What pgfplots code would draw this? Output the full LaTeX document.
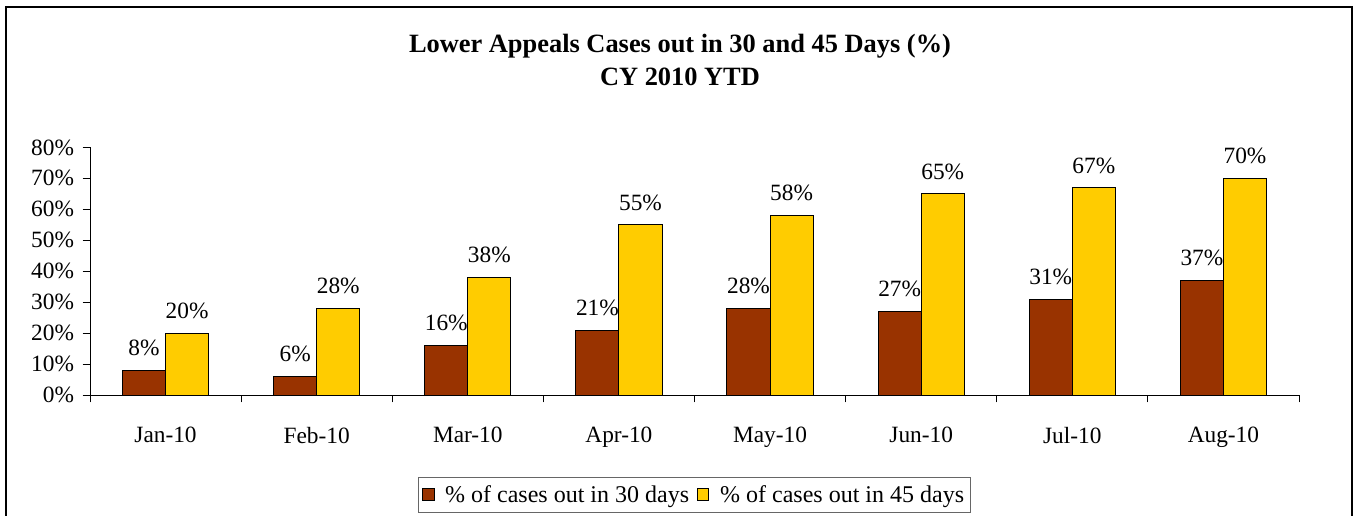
\documentclass[border=0pt]{standalone}
\usepackage{pgfplots}
\pgfplotsset{compat=1.18}
\usepackage{fontspec}
\setmainfont{Liberation Serif}
\definecolor{brownbar}{RGB}{153,51,0}
\definecolor{yellowbar}{RGB}{255,204,0}
\begin{document}
\begin{tikzpicture}
\useasboundingbox (0,0) rectangle (1017pt,386.25pt);
\draw[line width=1.5pt] (4.5pt,-3pt) -- (4.5pt,381pt) -- (1014pt,381pt) -- (1014pt,-3pt);
\node[font=\fontsize{19.8}{24.75}\selectfont\bfseries, align=center] at (510pt,341pt) {Lower Appeals Cases out in 30 and 45 Days (\%)\\CY 2010 YTD};
\begin{axis}[
  at={(67.5pt,90pt)}, anchor=south west,
  scale only axis, width=906.75pt, height=185.7pt,
  xmin=-0.5, xmax=7.5, ymin=0, ymax=80,
  ybar=0pt, bar width=0.285,
  axis lines*=left,
  axis line style={line width=0.75pt, black},
  xtick={-0.5,0.5,1.5,2.5,3.5,4.5,5.5,6.5,7.5},
  x tick label as interval,
  xticklabels={Jan-10,Feb-10,Mar-10,Apr-10,May-10,Jun-10,Jul-10,Aug-10},
  ytick={0,10,20,30,40,50,60,70,80},
  yticklabels={0\%,10\%,20\%,30\%,40\%,50\%,60\%,70\%,80\%},
  tick align=outside,
  major tick length=5.5pt,
  tick style={line width=0.75pt, black},
  ticklabel style={font=\fontsize{17.5}{20}\selectfont},
  y tick label style={xshift=-3pt},
  x tick label style={yshift=-15pt},
  nodes near coords={\pgfmathprintnumber[assume math mode=true]{\pgfplotspointmeta}\%},
  every node near coord/.append style={font=\fontsize{17.5}{20}\selectfont, yshift=7pt, black},
  legend columns=2,
  legend style={at={(0.5,-0.331)}, anchor=north, draw=black!60, line width=0.75pt,
    font=\fontsize{18}{20}\selectfont, inner xsep=3pt, inner ysep=4pt,
    /tikz/every odd column/.append style={column sep=6pt},
    /tikz/every even column/.append style={column sep=4pt}},
  legend image code/.code={\draw[#1, line width=0.75pt] (0pt,-4pt) rectangle (8.5pt,4.5pt);},
]
\addplot[fill=brownbar, draw=black, line width=0.75pt]
  coordinates {(0,8) (1,6) (2,16) (3,21) (4,28) (5,27) (6,31) (7,37)};
\addlegendentry{\% of cases out in 30 days}
\addplot[fill=yellowbar, draw=black, line width=0.75pt]
  coordinates {(0,20) (1,28) (2,38) (3,55) (4,58) (5,65) (6,67) (7,70)};
\addlegendentry{\% of cases out in 45 days}
\end{axis}
\end{tikzpicture}
\end{document}
